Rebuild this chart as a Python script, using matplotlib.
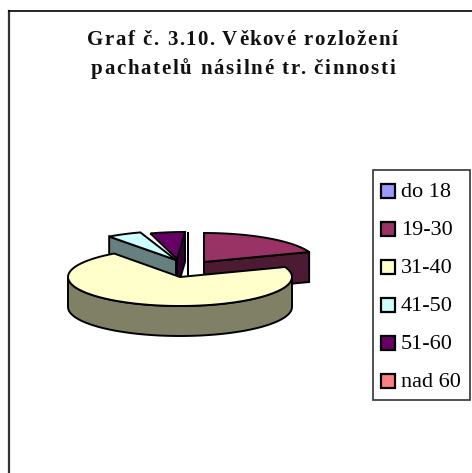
import numpy as np
import matplotlib
matplotlib.use("Agg")
import matplotlib.pyplot as plt
from matplotlib.patches import Polygon, Rectangle

categories = ["do 18", "19-30", "31-40", "41-50", "51-60", "nad 60"]
values = [0.0, 19.4, 70.6, 5.0, 5.0, 0.0]

title_lines = ["Graf č. 3.10. Věkové rozložení", "pachatelů násilné tr. činnosti"]

# colours: top face, side face
top_colors = ["#9999ff", "#993366", "#ffffcc", "#ccffff", "#660066", "#ff8080"]
side_colors = ["#4d4d80", "#4d1a33", "#808066", "#668080", "#330033", "#804040"]

# pie look, pixels
RX = 112
RY = 29
DEPTH = 30
# rim centre and apex of each exploded slice
rim_centers = [(188, 261), (204, 262), (180, 277), (175, 260), (185, 261), (188, 261)]
apexes = [(188, 261), (204, 262), (180, 277), (176, 260), (177, 259), (188, 261)]
# which cut faces can be seen: 0 start edge, 1 end edge
visible_cuts = [[1], [1], [], [0], [1], []]
draw_order = [0, 4, 3, 1, 2]

W, H = 472, 473
plt.rcParams["font.family"] = ["Liberation Serif", "DejaVu Serif"]
fig = plt.figure(figsize=(W / 100, H / 100), dpi=100)
ax = fig.add_axes([0, 0, 1, 1])
ax.set_xlim(0, W)
ax.set_ylim(H, 0)
ax.axis("off")

# chart frame
ax.plot([9, 9], [H, 11], color="#333333", lw=1.6)
ax.plot([9, W], [11, 11], color="black", lw=1.2)


def rim(i, a):
    # a is clockwise from 12 o'clock, degrees
    a = np.radians(a)
    cx, cy = rim_centers[i]
    return cx + RX * np.sin(a), cy - RY * np.cos(a)


def spaced_text(s, x0, x1, y, size):
    # the reference title is letter spaced, so set it char by char
    rend = fig.canvas.get_renderer()
    probe = ax.text(0, 0, s, fontsize=size, fontweight="bold")
    full = probe.get_window_extent(rend).width
    gap = (x1 - x0 - full) / (len(s) - 1)
    for n, ch in enumerate(s):
        probe.set_text(s[:n + 1] + "|")
        w = probe.get_window_extent(rend).width
        probe.set_text("|")
        w -= probe.get_window_extent(rend).width
        probe.set_text(ch + "|")
        cw = probe.get_window_extent(rend).width
        probe.set_text("|")
        cw -= probe.get_window_extent(rend).width
        ax.text(x0 + w - cw + gap * n, y, ch, ha="left", va="baseline",
                fontsize=size, fontweight="bold", color="#111111")
    probe.remove()


ends = np.cumsum(values) * 360 / sum(values)
starts = np.concatenate([[0], ends[:-1]])

for i in draw_order:
    a0, a1 = starts[i], ends[i]
    ang = np.linspace(a0, a1, 80)
    xs, ys = rim(i, ang)
    ax_, ay_ = apexes[i]
    # cut faces
    for k in visible_cuts[i]:
        x, y = rim(i, (a0, a1)[k])
        ax.add_patch(Polygon([(ax_, ay_), (x, y), (x, y + DEPTH), (ax_, ay_ + DEPTH)],
                             fc=side_colors[i], ec="black", lw=1.4))
    # outer wall on the front half
    lo, hi = max(a0, 90), min(a1, 270)
    if hi > lo:
        wx, wy = rim(i, np.linspace(lo, hi, 80))
        pts = list(zip(wx, wy)) + list(zip(wx[::-1], wy[::-1] + DEPTH))
        ax.add_patch(Polygon(pts, fc=side_colors[i], ec="black", lw=1.4))
    # top face
    pts = [(ax_, ay_)] + list(zip(xs, ys))
    ax.add_patch(Polygon(pts, fc=top_colors[i], ec="black", lw=1.4))

# title
spaced_text(title_lines[0], 87, 397, 45, 15)
spaced_text(title_lines[1], 91, 395, 74, 15)

# legend
ax.add_patch(Rectangle((373, 170), 97, 230, fc="white", ec="#333333", lw=1.2))
for i, name in enumerate(categories):
    y = 191 + i * 38
    ax.add_patch(Rectangle((380.5, y - 7), 14, 14, fc=top_colors[i], ec="black", lw=1.6))
    ax.text(401, y + 5.5, name, ha="left", va="baseline", fontsize=16)

fig.savefig("out.png", dpi=100)
